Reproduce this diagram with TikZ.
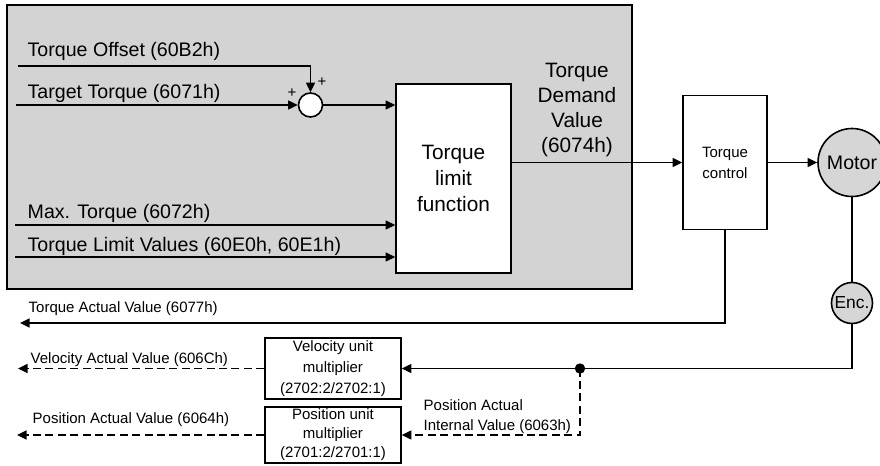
\documentclass[tikz,border=0pt]{standalone}
\usepackage{fontspec}
\setmainfont{Liberation Sans}
\usepackage{tikz}
\usetikzlibrary{positioning,calc,arrows.meta}
\definecolor{panelgray}{RGB}{211,211,211}
\definecolor{motorgray}{RGB}{214,214,214}
\newcommand{\lblfont}{\fontsize{9.8}{11.8}\selectfont}
\newcommand{\boxfont}{\fontsize{10.4}{13.2}\selectfont}
\newcommand{\smallfont}{\fontsize{7.5}{10.5}\selectfont}

\begin{document}
\begin{tikzpicture}[x=0.5pt, y=-0.5pt, line width=0.68pt, >={Triangle[length=4.8pt,width=4.5pt]},
    every node/.style={font=\lblfont}]
  \tikzstyle{blk}=[draw, fill=white, line width=0.8pt, inner sep=0pt, align=center]
  \tikzstyle{dashline}=[dash pattern=on 4pt off 2.2pt]
  \tikzstyle{sig}=[anchor=base west, inner sep=0pt]
  \useasboundingbox (0,0) rectangle (880,466);
  \fill[panelgray] (7,5) rectangle (632,289);
  \draw[line width=0.8pt] (7,5) rectangle (632,289);
  % blocks
  \node[blk, minimum width=57.5pt, minimum height=94.5pt, font=\boxfont] (limit) at (453.5,178.5) {Torque\\limit\\function};
  \node[blk, circle, minimum size=12pt] (sum) at (310.5,105) {};
  \node[blk, minimum width=42pt, minimum height=67pt, font=\smallfont] (tc) at (725,162.5) {Torque\\control};
  \node[blk, circle, fill=motorgray, minimum size=34pt] (motor) at (852,162.5) {Motor};
  \node[blk, circle, fill=motorgray, minimum size=20.5pt, font=\fontsize{8.7}{10}\selectfont] (enc) at (852,303) {Enc.};
  \node[blk, minimum width=68pt, minimum height=30.5pt, font=\fontsize{7.5}{10.5}\selectfont] (vel) at (333,368.5) {Velocity unit\\multiplier\\(2702:2/2702:1)};
  \node[blk, minimum width=68pt, minimum height=28pt, font=\fontsize{7.5}{9.5}\selectfont] (pos) at (333,435) {Position unit\\multiplier\\(2701:2/2701:1)};
  % free ends
  \coordinate (offin) at (18,66);
  \coordinate (tgtin) at (16,105);
  \coordinate (maxin) at (15,225);
  \coordinate (limin) at (15,257);
  \coordinate (tavout) at (20,323);
  \coordinate (velout) at (18,368.5);
  \coordinate (posout) at (17,435);
  \coordinate (split) at (580,368.5);
  \coordinate (splitdn) at (580,435);
  % signals in the panel
  \draw[->] (offin) -| (sum.north);
  \draw[->] (tgtin) -- (sum.west);
  \draw[->] (sum.east) -- (sum.east -| limit.west);
  \draw[->] (maxin) -- (maxin -| limit.west);
  \draw[->] (limin) -- (limin -| limit.west);
  \node[sig] at (27,56) {Torque Offset (60B2h)};
  \node[sig] at (27,98) {Target Torque (6071h)};
  \node[sig] at (27,218) {Max. Torque (6072h)};
  \node[sig] at (27,251) {Torque Limit Values (60E0h, 60E1h)};
  \node[font=\fontsize{7.5}{8}\selectfont, inner sep=0pt] (plusl) at (292,93) {+};
  \node[font=\fontsize{7.5}{8}\selectfont, inner sep=0pt] (plust) at (322,82) {+};
  % demand and drive
  \draw[->] (tc.west -| limit.east) -- (tc.west);
  \node[align=center, font=\fontsize{10.4}{12.5}\selectfont] (demand) at (577,110) {Torque\\Demand\\Value\\(6074h)};
  \draw[->] (tc.east) -- (motor.west);
  \draw (motor.south) -- (enc.north);
  % feedback
  \draw[->] (tc.south) |- (tavout);
  \node[sig, font=\smallfont] at (28,312) {Torque Actual Value (6077h)};
  \draw[->] (enc.south) |- (split) -- (vel.east);
  \fill (split) circle (2.6pt);
  \draw[->, dashline] (split) -- (splitdn) -- (pos.east);
  \node[sig, font=\smallfont] at (423,410) {Position Actual};
  \node[sig, font=\smallfont] at (423,430) {Internal Value (6063h)};
  \draw[->, dashline] (vel.west) -- (velout);
  \draw[->, dashline] (pos.west) -- (posout);
  \node[sig, font=\smallfont] at (30,363) {Velocity Actual Value (606Ch)};
  \node[sig, font=\smallfont] at (32,423) {Position Actual Value (6064h)};
\end{tikzpicture}
\end{document}
